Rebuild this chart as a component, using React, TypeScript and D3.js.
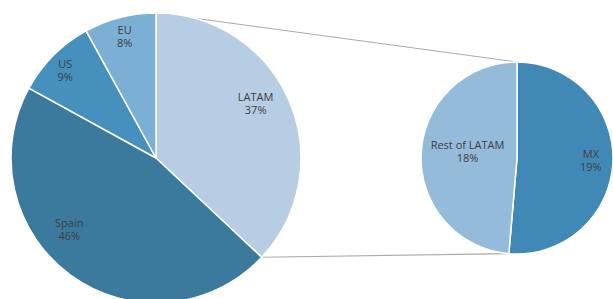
import React from "react";
import * as d3 from "d3";

const mainCategories = ["LATAM", "Spain", "US", "EU"];
const mainValues = [37, 46, 9, 8];
const mainColors = ["#b6cde3", "#3b7a9d", "#4590bc", "#7bafd4"];

const subCategories = ["MX", "Rest of LATAM"];
const subValues = [19, 18];
const subColors = ["#4089b6", "#95bbda"];

// label placement: [radius factor, angle offset in degrees]
const mainLabelPos = [[0.785, -5.5], [0.775, 14.5], [0.87, -1], [0.87, 0]];
const subLabelPos = [[0.77, -0.5], [0.52, 5.5]];

const W = 613;
const H = 299;

export default function App() {
  const main = { cx: 156, cy: 158, r: 145 };
  const sub = { cx: 517, cy: 158, r: 96 };

  const pie = d3.pie<number>().sort(null).value((d) => d);
  const mainArcs = pie(mainValues);
  const subArcs = pie(subValues);
  const arcMain = d3.arc<d3.PieArcDatum<number>>().innerRadius(0).outerRadius(main.r);
  const arcSub = d3.arc<d3.PieArcDatum<number>>().innerRadius(0).outerRadius(sub.r);

  const polar = (cx: number, cy: number, r: number, a: number) => [
    cx + r * Math.sin(a),
    cy - r * Math.cos(a),
  ];

  const latam = mainArcs[0];
  const p1 = polar(main.cx, main.cy, main.r, latam.startAngle);
  const p2 = polar(main.cx, main.cy, main.r, latam.endAngle);
  const q1 = polar(sub.cx, sub.cy, sub.r, subArcs[0].startAngle);
  const q2 = polar(sub.cx, sub.cy, sub.r, subArcs[0].endAngle);

  const total = d3.sum(mainValues);
  const fmt = (v: number) => `${Math.round((v / total) * 100)}%`;

  const label = (
    cx: number,
    cy: number,
    r: number,
    a: d3.PieArcDatum<number>,
    pos: number[],
    name: string,
    key: string
  ) => {
    const mid = (a.startAngle + a.endAngle) / 2 + (pos[1] * Math.PI) / 180;
    const [x, y] = polar(cx, cy, r * pos[0], mid);
    const common = {
      textAnchor: "middle" as const,
      fontSize: 11,
      fill: "#404040",
      fontFamily: "'Open Sans', sans-serif",
    };
    return (
      <g key={key}>
        <text x={x} y={y - 2} {...common}>{name}</text>
        <text x={x} y={y + 11} {...common}>{fmt(a.data)}</text>
      </g>
    );
  };

  return (
    <svg width={W} height={H} style={{ position: "absolute", left: 0, top: 0 }}>
      <rect width={W} height={H} fill="#ffffff" />
      <line x1={p1[0]} y1={p1[1]} x2={q1[0]} y2={q1[1]} stroke="#aaaaaa" strokeWidth={1} />
      <line x1={p2[0]} y1={p2[1]} x2={q2[0]} y2={q2[1]} stroke="#aaaaaa" strokeWidth={1.2} />
      <g transform={`translate(${main.cx},${main.cy})`}>
        {mainArcs.map((a, i) => (
          <path key={i} d={arcMain(a) || ""} fill={mainColors[i]} stroke="#ffffff" strokeWidth={1.5} />
        ))}
      </g>
      <g transform={`translate(${sub.cx},${sub.cy})`}>
        {subArcs.map((a, i) => (
          <path key={i} d={arcSub(a) || ""} fill={subColors[i]} stroke="#ffffff" strokeWidth={1.5} />
        ))}
      </g>
      {mainArcs.map((a, i) =>
        label(main.cx, main.cy, main.r, a, mainLabelPos[i], mainCategories[i], "m" + i)
      )}
      {subArcs.map((a, i) =>
        label(sub.cx, sub.cy, sub.r, a, subLabelPos[i], subCategories[i], "s" + i)
      )}
    </svg>
  );
}
